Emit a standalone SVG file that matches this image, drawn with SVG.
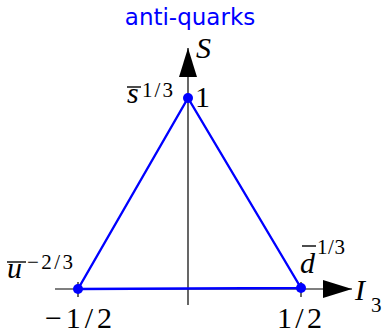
<svg xmlns="http://www.w3.org/2000/svg" width="382" height="334" viewBox="0 0 382 334">
<style>
.ax{stroke:#000;stroke-width:1.2;fill:none}
.tri{stroke:#0000ff;stroke-width:2.4;fill:none;stroke-linejoin:round}
.dot{fill:#0000ff}
.t{font-family:"Liberation Serif",serif;font-size:30px;fill:#000}
.it{font-style:italic}
.sup{font-family:"Liberation Serif",serif;font-size:21px;fill:#000}
.bar{stroke:#000;stroke-width:1.4}
.title{font-family:"DejaVu Sans","Liberation Sans",sans-serif;font-size:23px;fill:#0000ff}
</style>
<defs>
<marker id="ah" markerWidth="29" markerHeight="18" refX="29" refY="9" orient="auto" markerUnits="userSpaceOnUse">
<path d="M0,0 L29,9 L0,18 Z" fill="#000"/>
</marker>
</defs>
<g id="connectors">
<line class="ax" x1="55" y1="289" x2="352" y2="289" marker-end="url(#ah)"/>
<line class="ax" x1="188" y1="305" x2="188" y2="48" marker-end="url(#ah)"/>
<line class="ax" x1="78" y1="282" x2="78" y2="297"/>
<line class="ax" x1="301" y1="282" x2="301" y2="297"/>
<path class="tri" d="M78,289 L188,98 L301,288 Z"/>
</g>
<g id="title"><text class="title" x="190" y="25" text-anchor="middle">anti-quarks</text></g>
<g id="axis-S"><text class="t it" x="196" y="58">S</text></g>
<g id="axis-I3"><text class="t it" x="355" y="300">I</text><text class="sup" x="371" y="312">3</text></g>
<g id="node-s"><circle class="dot" cx="188" cy="98" r="5"/>
<text class="t it" x="127" y="103">s</text>
<line class="bar" x1="127" y1="87" x2="141" y2="87"/>
<text class="sup" x="142" y="97" textLength="31" lengthAdjust="spacing">1/3</text>
<text class="t" x="195" y="107">1</text></g>
<g id="node-u"><circle class="dot" cx="78" cy="289" r="5"/>
<text class="t it" x="7" y="278">u</text>
<line class="bar" x1="7" y1="262" x2="26" y2="262"/>
<text class="sup" x="27" y="269" textLength="46" lengthAdjust="spacing">−2/3</text>
<text class="t" x="45" y="328" textLength="67" lengthAdjust="spacing">−1/2</text></g>
<g id="node-d"><circle class="dot" cx="301" cy="288" r="5"/>
<text class="t it" x="300" y="273">d</text>
<line class="bar" x1="302" y1="246" x2="316" y2="246"/>
<text class="sup" x="317" y="254" textLength="28" lengthAdjust="spacing">1/3</text>
<text class="t" x="277" y="328" textLength="45" lengthAdjust="spacing">1/2</text></g>
</svg>
